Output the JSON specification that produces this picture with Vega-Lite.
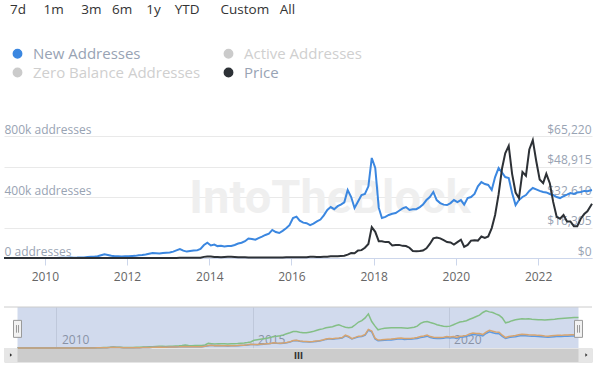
{
  "$schema": "https://vega.github.io/schema/vega-lite/v6.json",
  "padding": {"left": 0, "top": 2, "right": 6, "bottom": 0},
  "background": "white",
  "config": {"view": {"stroke": null}, "font": "Open Sans"},
  "title": {"text": "7d\u00a0\u00a0\u00a0\u00a0\u00a01m\u00a0\u00a0\u00a0\u00a0\u00a03m\u00a0\u00a0\u00a06m\u00a0\u00a0\u00a0\u00a01y\u00a0\u00a0\u00a0\u00a0YTD\u00a0\u00a0\u00a0\u00a0\u00a0\u00a0Custom\u00a0\u00a0\u00a0All", "anchor": "start", "font": "Open Sans", "fontSize": 13.5, "fontWeight": "normal", "color": "#333333", "offset": 30, "dx": 10, "baseline": "top"},
  "datasets": {
    "btc": [
      {"date": "2009-01-03", "new": 100, "price": 0, "active": 200, "zero": 100},
      {"date": "2009-02-15", "new": 300, "price": 0, "active": 500, "zero": 300},
      {"date": "2009-03-15", "new": 300, "price": 0, "active": 500, "zero": 300},
      {"date": "2009-04-15", "new": 300, "price": 0, "active": 500, "zero": 300},
      {"date": "2009-05-15", "new": 400, "price": 0, "active": 600, "zero": 400},
      {"date": "2009-06-15", "new": 400, "price": 0, "active": 600, "zero": 400},
      {"date": "2009-07-15", "new": 400, "price": 0, "active": 600, "zero": 400},
      {"date": "2009-08-15", "new": 400, "price": 0, "active": 600, "zero": 400},
      {"date": "2009-09-15", "new": 400, "price": 0, "active": 600, "zero": 400},
      {"date": "2009-10-15", "new": 500, "price": 0, "active": 700, "zero": 500},
      {"date": "2009-11-15", "new": 500, "price": 0, "active": 700, "zero": 500},
      {"date": "2009-12-15", "new": 500, "price": 0, "active": 700, "zero": 500},
      {"date": "2010-01-15", "new": 600, "price": 0, "active": 900, "zero": 600},
      {"date": "2010-02-15", "new": 600, "price": 0, "active": 900, "zero": 600},
      {"date": "2010-03-15", "new": 700, "price": 0, "active": 1000, "zero": 700},
      {"date": "2010-04-15", "new": 800, "price": 0, "active": 1100, "zero": 800},
      {"date": "2010-05-15", "new": 900, "price": 0, "active": 1300, "zero": 900},
      {"date": "2010-06-15", "new": 1100, "price": 0, "active": 1600, "zero": 1100},
      {"date": "2010-07-15", "new": 2200, "price": 0.06, "active": 3000, "zero": 2200},
      {"date": "2010-08-15", "new": 2600, "price": 0.07, "active": 3500, "zero": 2600},
      {"date": "2010-09-15", "new": 2300, "price": 0.06, "active": 3200, "zero": 2300},
      {"date": "2010-10-15", "new": 2500, "price": 0.1, "active": 3500, "zero": 2500},
      {"date": "2010-11-15", "new": 3500, "price": 0.25, "active": 5000, "zero": 3500},
      {"date": "2010-12-15", "new": 4000, "price": 0.25, "active": 6000, "zero": 4000},
      {"date": "2011-01-15", "new": 6000, "price": 0.3, "active": 9000, "zero": 6000},
      {"date": "2011-02-15", "new": 8000, "price": 0.9, "active": 12000, "zero": 8000},
      {"date": "2011-03-15", "new": 9000, "price": 0.9, "active": 14000, "zero": 9000},
      {"date": "2011-04-15", "new": 12000, "price": 1.5, "active": 18000, "zero": 12000},
      {"date": "2011-05-15", "new": 18000, "price": 7, "active": 25000, "zero": 18000},
      {"date": "2011-06-15", "new": 24000, "price": 17, "active": 35000, "zero": 24000},
      {"date": "2011-07-15", "new": 20000, "price": 14, "active": 30000, "zero": 20000},
      {"date": "2011-08-15", "new": 15000, "price": 10, "active": 25000, "zero": 15000},
      {"date": "2011-09-15", "new": 12000, "price": 5, "active": 22000, "zero": 12000},
      {"date": "2011-10-15", "new": 11000, "price": 3, "active": 20000, "zero": 11000},
      {"date": "2011-11-15", "new": 10000, "price": 2.5, "active": 20000, "zero": 10000},
      {"date": "2011-12-15", "new": 12000, "price": 3.5, "active": 22000, "zero": 12000},
      {"date": "2012-01-15", "new": 12000, "price": 6, "active": 30000, "zero": 12000},
      {"date": "2012-02-15", "new": 13000, "price": 5, "active": 32000, "zero": 13000},
      {"date": "2012-03-15", "new": 14000, "price": 5, "active": 35000, "zero": 14000},
      {"date": "2012-04-15", "new": 18000, "price": 5, "active": 40000, "zero": 18000},
      {"date": "2012-05-15", "new": 20000, "price": 5, "active": 45000, "zero": 20000},
      {"date": "2012-06-15", "new": 23000, "price": 6.5, "active": 48000, "zero": 23000},
      {"date": "2012-07-15", "new": 28000, "price": 8.5, "active": 55000, "zero": 28000},
      {"date": "2012-08-15", "new": 33000, "price": 11, "active": 60000, "zero": 33000},
      {"date": "2012-09-15", "new": 31000, "price": 11, "active": 60000, "zero": 31000},
      {"date": "2012-10-15", "new": 29000, "price": 12, "active": 58000, "zero": 29000},
      {"date": "2012-11-15", "new": 33000, "price": 11, "active": 60000, "zero": 33000},
      {"date": "2012-12-15", "new": 35000, "price": 13, "active": 62000, "zero": 35000},
      {"date": "2013-01-15", "new": 36000, "price": 15, "active": 70000, "zero": 36000},
      {"date": "2013-02-15", "new": 42000, "price": 25, "active": 78000, "zero": 42000},
      {"date": "2013-03-15", "new": 50000, "price": 60, "active": 90000, "zero": 50000},
      {"date": "2013-04-15", "new": 59000, "price": 130, "active": 110000, "zero": 59000},
      {"date": "2013-05-15", "new": 48000, "price": 120, "active": 95000, "zero": 48000},
      {"date": "2013-06-15", "new": 42000, "price": 105, "active": 85000, "zero": 42000},
      {"date": "2013-07-15", "new": 46000, "price": 90, "active": 88000, "zero": 46000},
      {"date": "2013-08-15", "new": 49000, "price": 105, "active": 92000, "zero": 49000},
      {"date": "2013-09-15", "new": 50000, "price": 125, "active": 95000, "zero": 50000},
      {"date": "2013-10-15", "new": 60000, "price": 160, "active": 110000, "zero": 60000},
      {"date": "2013-11-15", "new": 85000, "price": 600, "active": 170000, "zero": 88000},
      {"date": "2013-12-15", "new": 100000, "price": 850, "active": 160000, "zero": 104000},
      {"date": "2014-01-15", "new": 82000, "price": 850, "active": 150000, "zero": 86000},
      {"date": "2014-02-15", "new": 88000, "price": 600, "active": 160000, "zero": 92000},
      {"date": "2014-03-15", "new": 78000, "price": 580, "active": 155000, "zero": 82000},
      {"date": "2014-04-15", "new": 80000, "price": 450, "active": 155000, "zero": 84000},
      {"date": "2014-05-15", "new": 75000, "price": 520, "active": 150000, "zero": 79000},
      {"date": "2014-06-15", "new": 78000, "price": 620, "active": 155000, "zero": 82000},
      {"date": "2014-07-15", "new": 79000, "price": 620, "active": 160000, "zero": 83000},
      {"date": "2014-08-15", "new": 85000, "price": 550, "active": 165000, "zero": 89000},
      {"date": "2014-09-15", "new": 95000, "price": 450, "active": 175000, "zero": 100000},
      {"date": "2014-10-15", "new": 100000, "price": 380, "active": 185000, "zero": 105000},
      {"date": "2014-11-15", "new": 110000, "price": 370, "active": 200000, "zero": 116000},
      {"date": "2014-12-15", "new": 128000, "price": 330, "active": 220000, "zero": 134000},
      {"date": "2015-01-15", "new": 125000, "price": 250, "active": 280000, "zero": 131000},
      {"date": "2015-02-15", "new": 120000, "price": 240, "active": 300000, "zero": 126000},
      {"date": "2015-03-15", "new": 130000, "price": 260, "active": 320000, "zero": 137000},
      {"date": "2015-04-15", "new": 140000, "price": 230, "active": 340000, "zero": 147000},
      {"date": "2015-05-15", "new": 151000, "price": 235, "active": 360000, "zero": 159000},
      {"date": "2015-06-15", "new": 160000, "price": 240, "active": 380000, "zero": 168000},
      {"date": "2015-07-15", "new": 184000, "price": 280, "active": 420000, "zero": 193000},
      {"date": "2015-08-15", "new": 170000, "price": 240, "active": 430000, "zero": 179000},
      {"date": "2015-09-15", "new": 164000, "price": 235, "active": 450000, "zero": 172000},
      {"date": "2015-10-15", "new": 178000, "price": 270, "active": 480000, "zero": 187000},
      {"date": "2015-11-15", "new": 195000, "price": 350, "active": 520000, "zero": 205000},
      {"date": "2015-12-15", "new": 215000, "price": 430, "active": 557000, "zero": 226000},
      {"date": "2016-01-15", "new": 262000, "price": 400, "active": 600000, "zero": 275000},
      {"date": "2016-02-15", "new": 271000, "price": 400, "active": 604000, "zero": 285000},
      {"date": "2016-03-15", "new": 245000, "price": 410, "active": 580000, "zero": 257000},
      {"date": "2016-04-15", "new": 232000, "price": 430, "active": 560000, "zero": 244000},
      {"date": "2016-05-15", "new": 228000, "price": 450, "active": 557000, "zero": 239000},
      {"date": "2016-06-15", "new": 216000, "price": 650, "active": 580000, "zero": 227000},
      {"date": "2016-07-15", "new": 225000, "price": 660, "active": 600000, "zero": 236000},
      {"date": "2016-08-15", "new": 240000, "price": 580, "active": 640000, "zero": 252000},
      {"date": "2016-09-15", "new": 252000, "price": 600, "active": 680000, "zero": 265000},
      {"date": "2016-10-15", "new": 280000, "price": 650, "active": 700000, "zero": 294000},
      {"date": "2016-11-15", "new": 315000, "price": 730, "active": 739000, "zero": 331000},
      {"date": "2016-12-15", "new": 334000, "price": 900, "active": 760000, "zero": 351000},
      {"date": "2017-01-15", "new": 320000, "price": 900, "active": 780000, "zero": 336000},
      {"date": "2017-02-15", "new": 340000, "price": 1000, "active": 820000, "zero": 357000},
      {"date": "2017-03-15", "new": 350000, "price": 1100, "active": 848000, "zero": 368000},
      {"date": "2017-04-15", "new": 365000, "price": 1200, "active": 800000, "zero": 383000},
      {"date": "2017-05-15", "new": 446000, "price": 1800, "active": 760000, "zero": 468000},
      {"date": "2017-06-15", "new": 400000, "price": 2600, "active": 739000, "zero": 420000},
      {"date": "2017-07-15", "new": 328000, "price": 2500, "active": 760000, "zero": 344000},
      {"date": "2017-08-15", "new": 370000, "price": 4000, "active": 850000, "zero": 389000},
      {"date": "2017-09-15", "new": 413000, "price": 4200, "active": 950000, "zero": 434000},
      {"date": "2017-10-15", "new": 420000, "price": 5500, "active": 1000000, "zero": 441000},
      {"date": "2017-11-15", "new": 470000, "price": 7500, "active": 1103000, "zero": 494000},
      {"date": "2017-12-15", "new": 656000, "price": 16500, "active": 1249000, "zero": 680000},
      {"date": "2018-01-15", "new": 590000, "price": 14000, "active": 968000, "zero": 620000},
      {"date": "2018-02-15", "new": 330000, "price": 9000, "active": 800000, "zero": 360000},
      {"date": "2018-03-15", "new": 262000, "price": 9000, "active": 666000, "zero": 290000},
      {"date": "2018-04-15", "new": 270000, "price": 8500, "active": 700000, "zero": 298000},
      {"date": "2018-05-15", "new": 282000, "price": 8500, "active": 720000, "zero": 310000},
      {"date": "2018-06-15", "new": 290000, "price": 6700, "active": 730000, "zero": 319000},
      {"date": "2018-07-15", "new": 295000, "price": 7000, "active": 739000, "zero": 325000},
      {"date": "2018-08-15", "new": 310000, "price": 7000, "active": 739000, "zero": 341000},
      {"date": "2018-09-15", "new": 325000, "price": 6500, "active": 739000, "zero": 358000},
      {"date": "2018-10-15", "new": 334000, "price": 6400, "active": 739000, "zero": 367000},
      {"date": "2018-11-15", "new": 315000, "price": 5500, "active": 730000, "zero": 347000},
      {"date": "2018-12-15", "new": 320000, "price": 3700, "active": 720000, "zero": 352000},
      {"date": "2019-01-15", "new": 320000, "price": 3600, "active": 739000, "zero": 352000},
      {"date": "2019-02-15", "new": 334000, "price": 3700, "active": 760000, "zero": 367000},
      {"date": "2019-03-15", "new": 350000, "price": 4000, "active": 800000, "zero": 385000},
      {"date": "2019-04-15", "new": 380000, "price": 5200, "active": 900000, "zero": 418000},
      {"date": "2019-05-15", "new": 400000, "price": 7500, "active": 950000, "zero": 440000},
      {"date": "2019-06-15", "new": 433000, "price": 10500, "active": 968000, "zero": 476000},
      {"date": "2019-07-15", "new": 380000, "price": 11000, "active": 930000, "zero": 418000},
      {"date": "2019-08-15", "new": 360000, "price": 10500, "active": 900000, "zero": 396000},
      {"date": "2019-09-15", "new": 350000, "price": 9500, "active": 850000, "zero": 385000},
      {"date": "2019-10-15", "new": 347000, "price": 8500, "active": 820000, "zero": 382000},
      {"date": "2019-11-15", "new": 360000, "price": 8300, "active": 800000, "zero": 396000},
      {"date": "2019-12-15", "new": 380000, "price": 7200, "active": 786000, "zero": 418000},
      {"date": "2020-01-15", "new": 367000, "price": 8500, "active": 800000, "zero": 404000},
      {"date": "2020-02-15", "new": 380000, "price": 9800, "active": 850000, "zero": 418000},
      {"date": "2020-03-15", "new": 350000, "price": 6000, "active": 900000, "zero": 385000},
      {"date": "2020-04-15", "new": 393000, "price": 7000, "active": 950000, "zero": 432000},
      {"date": "2020-05-15", "new": 400000, "price": 9300, "active": 968000, "zero": 440000},
      {"date": "2020-06-15", "new": 420000, "price": 9500, "active": 1000000, "zero": 462000},
      {"date": "2020-07-15", "new": 470000, "price": 9300, "active": 1050000, "zero": 517000},
      {"date": "2020-08-15", "new": 498000, "price": 11500, "active": 1100000, "zero": 548000},
      {"date": "2020-09-15", "new": 485000, "price": 10700, "active": 1150000, "zero": 534000},
      {"date": "2020-10-15", "new": 479000, "price": 11500, "active": 1200000, "zero": 527000},
      {"date": "2020-11-15", "new": 446000, "price": 16000, "active": 1300000, "zero": 491000},
      {"date": "2020-12-15", "new": 531000, "price": 23000, "active": 1358000, "zero": 584000},
      {"date": "2021-01-15", "new": 590000, "price": 34000, "active": 1321000, "zero": 649000},
      {"date": "2021-02-15", "new": 560000, "price": 48000, "active": 1300000, "zero": 616000},
      {"date": "2021-03-15", "new": 531000, "price": 56000, "active": 1250000, "zero": 584000},
      {"date": "2021-04-15", "new": 525000, "price": 60000, "active": 1200000, "zero": 578000},
      {"date": "2021-05-15", "new": 426000, "price": 45000, "active": 1103000, "zero": 469000},
      {"date": "2021-06-15", "new": 347000, "price": 35000, "active": 921000, "zero": 382000},
      {"date": "2021-07-15", "new": 380000, "price": 32000, "active": 950000, "zero": 418000},
      {"date": "2021-08-15", "new": 400000, "price": 46000, "active": 1000000, "zero": 440000},
      {"date": "2021-09-15", "new": 413000, "price": 44000, "active": 1030000, "zero": 454000},
      {"date": "2021-10-15", "new": 440000, "price": 58000, "active": 1050000, "zero": 484000},
      {"date": "2021-11-15", "new": 459000, "price": 63000, "active": 1067000, "zero": 505000},
      {"date": "2021-12-15", "new": 450000, "price": 52000, "active": 1060000, "zero": 495000},
      {"date": "2022-01-15", "new": 440000, "price": 42000, "active": 1067000, "zero": 484000},
      {"date": "2022-02-15", "new": 433000, "price": 40000, "active": 1050000, "zero": 476000},
      {"date": "2022-03-15", "new": 430000, "price": 45000, "active": 1040000, "zero": 473000},
      {"date": "2022-04-15", "new": 420000, "price": 40000, "active": 1030000, "zero": 462000},
      {"date": "2022-05-15", "new": 413000, "price": 30000, "active": 1030000, "zero": 454000},
      {"date": "2022-06-15", "new": 400000, "price": 22000, "active": 1020000, "zero": 440000},
      {"date": "2022-07-15", "new": 393000, "price": 21000, "active": 1030000, "zero": 432000},
      {"date": "2022-08-15", "new": 405000, "price": 23000, "active": 1040000, "zero": 446000},
      {"date": "2022-09-15", "new": 415000, "price": 19500, "active": 1050000, "zero": 457000},
      {"date": "2022-10-15", "new": 426000, "price": 19500, "active": 1070000, "zero": 469000},
      {"date": "2022-11-15", "new": 420000, "price": 17000, "active": 1080000, "zero": 462000},
      {"date": "2022-12-15", "new": 430000, "price": 17000, "active": 1090000, "zero": 473000},
      {"date": "2023-01-15", "new": 433000, "price": 21000, "active": 1100000, "zero": 476000},
      {"date": "2023-02-15", "new": 440000, "price": 23500, "active": 1110000, "zero": 484000},
      {"date": "2023-03-15", "new": 438000, "price": 25000, "active": 1114000, "zero": 482000},
      {"date": "2023-04-25", "new": 446000, "price": 29000, "active": 1120000, "zero": 491000}
    ]
  },
  "spacing": 24,
  "center": false,
  "vconcat": [
    {
      "width": 588,
      "height": 122,
      "layer": [
        {
          "data": {"values": [{}]},
          "mark": {"type": "text", "text": "IntoTheBlock", "font": "Roboto", "fontSize": 47, "fontWeight": "bold", "color": "#efefef", "dx": 32, "dy": 2},
          "encoding": {}
        },
        {
          "data": {"name": "btc"},
          "mark": {"type": "line", "strokeWidth": 2},
          "encoding": {
            "x": {"field": "date", "type": "temporal", "scale": {"nice": false},
              "axis": {"format": "%Y", "tickCount": {"interval": "year", "step": 2}, "grid": false, "domainColor": "#ccd6eb", "tickColor": "#ccd6eb", "tickSize": 7, "labelFont": "Open Sans", "labelFontSize": 12, "labelColor": "#666666", "labelPadding": 6, "title": null, "labelFlush": false, "labelOverlap": false}},
            "y": {"field": "new", "type": "quantitative", "scale": {"domain": [0, 800000], "nice": false},
              "axis": {"orient": "left", "values": [0, 200000, 400000, 600000, 800000], "labelExpr": "datum.value == 0 ? '0 addresses' : (datum.value % 400000 == 0 ? (datum.value / 1000) + 'k addresses' : '')", "labelAlign": "left", "labelBaseline": "bottom", "labelPadding": 0, "ticks": false, "domain": false, "grid": true, "gridColor": "#e9e9e9", "title": null, "labelFont": "Open Sans", "labelFontSize": 12, "labelColor": "#98a3b3"}},
            "color": {"datum": "New Addresses", "type": "nominal",
              "scale": {"domain": ["New Addresses", "Zero Balance Addresses", "Active Addresses", "Price"], "range": ["#3b87e0", "#cbcbcb", "#cbcbcb", "#2d3136"]},
              "legend": {"orient": "none", "legendX": 6, "legendY": -90, "columns": 2, "symbolType": "circle", "symbolSize": 70, "labelFont": "Open Sans", "labelFontSize": 15, "labelOffset": 8, "labelLimit": 400, "columnPadding": 20, "rowPadding": 3, "title": null,
                "encode": {
                  "symbols": {"update": {"fill": {"signal": "scale('color', datum.value)"}, "stroke": {"value": "transparent"}, "opacity": {"value": 1}}},
                  "labels": {"update": {"fill": {"signal": "datum.value == 'New Addresses' || datum.value == 'Price' ? '#98a3b4' : '#cfcfcf'"}}}
                }}}
          }
        },
        {
          "data": {"name": "btc"},
          "mark": {"type": "line", "strokeWidth": 2},
          "encoding": {
            "x": {"field": "date", "type": "temporal"},
            "y": {"field": "price", "type": "quantitative", "scale": {"domain": [0, 65220], "nice": false},
              "axis": {"orient": "right", "values": [0, 16305, 32610, 48915, 65220], "format": "$,d", "labelAlign": "right", "labelBaseline": "bottom", "labelPadding": -1, "ticks": false, "domain": false, "grid": false, "title": null, "labelFont": "Open Sans", "labelFontSize": 12, "labelColor": "#98a3b3"}},
            "color": {"datum": "Price", "type": "nominal"}
          }
        }
      ],
      "resolve": {"scale": {"y": "independent"}}
    },
    {
      "width": 588,
      "height": 41,
      "view": {"stroke": null},
      "layer": [
        {
          "data": {"name": "btc"},
          "mark": {"type": "rect", "color": "#6685c2", "opacity": 0.3},
          "encoding": {
            "x": {"aggregate": "min", "field": "date", "type": "temporal", "scale": {"nice": false, "padding": 13.5},
              "axis": {"format": "%Y", "tickCount": {"interval": "year", "step": 5}, "grid": true, "gridColor": "#e6e6e6", "ticks": false, "domain": true, "domainColor": "#cccccc", "domainWidth": 14, "domainCap": "butt", "offset": 7, "labelAlign": "left", "labelBaseline": "bottom", "labelPadding": -9, "labelOffset": 5, "labelFont": "Open Sans", "labelFontSize": 12, "labelColor": "#999999", "labelFlush": false, "title": "III", "titleFont": "DejaVu Sans", "titleFontSize": 8, "titleFontWeight": "bold", "titleColor": "#333333", "titleY": 1, "titleBaseline": "middle"}},
            "x2": {"aggregate": "max", "field": "date"},
            "y": {"datum": 0, "type": "quantitative", "scale": {"domain": [0, 1500000], "nice": false}, "axis": null},
            "y2": {"datum": 1500000}
          }
        },
        {
          "data": {"name": "btc"},
          "mark": {"type": "line", "strokeWidth": 1.5, "color": "#84bf86"},
          "encoding": {
            "x": {"field": "date", "type": "temporal"},
            "y": {"field": "active", "type": "quantitative", "axis": null}
          }
        },
        {
          "data": {"name": "btc"},
          "mark": {"type": "line", "strokeWidth": 1.5, "color": "#5c9ae4"},
          "encoding": {
            "x": {"field": "date", "type": "temporal"},
            "y": {"field": "new", "type": "quantitative", "axis": null}
          }
        },
        {
          "data": {"name": "btc"},
          "mark": {"type": "line", "strokeWidth": 1.5, "color": "#d6a470"},
          "encoding": {
            "x": {"field": "date", "type": "temporal"},
            "y": {"field": "zero", "type": "quantitative", "axis": null}
          }
        },
        {
          "data": {"values": [{}]},
          "mark": {"type": "rule", "color": "#cccccc", "strokeWidth": 1},
          "encoding": {"y": {"datum": 1500000, "type": "quantitative", "axis": null}}
        },
        {
          "data": {"name": "btc"},
          "mark": {"type": "point", "shape": "M-0.47,-1H0.47V1H-0.47Z M-0.12,-0.45V0.45 M0.12,-0.45V0.45", "size": 289, "filled": true, "fill": "#f2f2f2", "stroke": "#999999", "strokeWidth": 1, "opacity": 1},
          "encoding": {
            "x": {"aggregate": "min", "field": "date", "type": "temporal"},
            "y": {"datum": 700000, "type": "quantitative", "axis": null}
          }
        },
        {
          "data": {"name": "btc"},
          "mark": {"type": "point", "shape": "M-0.47,-1H0.47V1H-0.47Z M-0.12,-0.45V0.45 M0.12,-0.45V0.45", "size": 289, "filled": true, "fill": "#f2f2f2", "stroke": "#999999", "strokeWidth": 1, "opacity": 1},
          "encoding": {
            "x": {"aggregate": "max", "field": "date", "type": "temporal"},
            "y": {"datum": 700000, "type": "quantitative", "axis": null}
          }
        },
        {
          "data": {"name": "btc"},
          "mark": {"type": "point", "shape": "M-1.5,-0.78H0V0.78H-1.5Z", "size": 324, "filled": true, "fill": "#e6e6e6", "strokeWidth": 0, "opacity": 1},
          "encoding": {
            "x": {"aggregate": "min", "field": "date", "type": "temporal"},
            "y": {"datum": -256000, "type": "quantitative", "axis": null}
          }
        },
        {
          "data": {"name": "btc"},
          "mark": {"type": "point", "shape": "M0,-0.78H1.5V0.78H0Z", "size": 324, "filled": true, "fill": "#e6e6e6", "strokeWidth": 0, "opacity": 1},
          "encoding": {
            "x": {"aggregate": "max", "field": "date", "type": "temporal"},
            "y": {"datum": -256000, "type": "quantitative", "axis": null}
          }
        },
        {
          "data": {"name": "btc"},
          "mark": {"type": "point", "shape": "M-0.6,0L-0.84,-0.2L-0.84,0.2Z", "size": 324, "filled": true, "fill": "#333333", "strokeWidth": 0, "opacity": 1},
          "encoding": {
            "x": {"aggregate": "min", "field": "date", "type": "temporal"},
            "y": {"datum": -256000, "type": "quantitative", "axis": null}
          }
        },
        {
          "data": {"name": "btc"},
          "mark": {"type": "point", "shape": "M1.0,0L0.76,-0.2L0.76,0.2Z", "size": 324, "filled": true, "fill": "#333333", "strokeWidth": 0, "opacity": 1},
          "encoding": {
            "x": {"aggregate": "max", "field": "date", "type": "temporal"},
            "y": {"datum": -256000, "type": "quantitative", "axis": null}
          }
        }
      ]
    }
  ]
}
